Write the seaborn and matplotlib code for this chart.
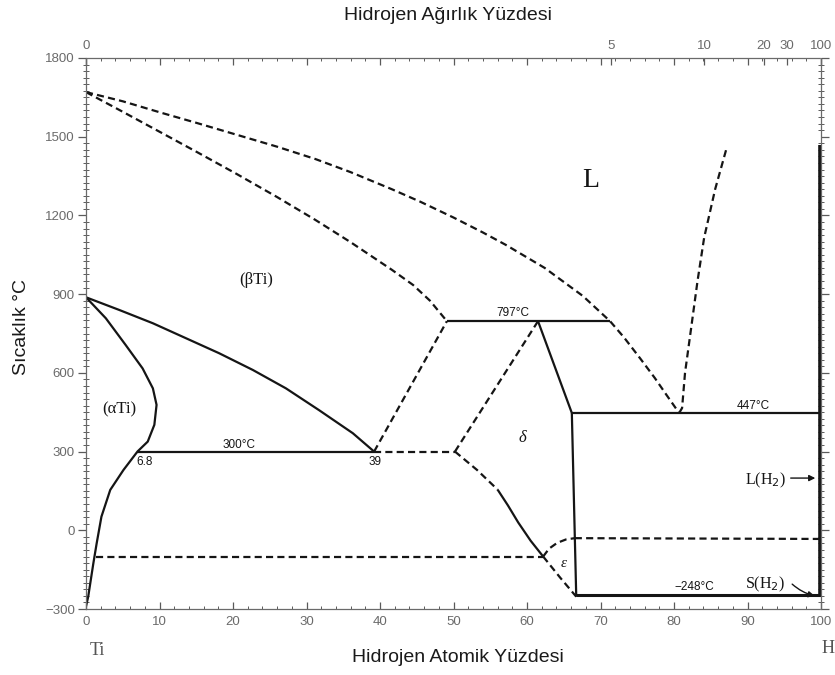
import numpy as np
import pandas as pd
import matplotlib
matplotlib.use("Agg")
import matplotlib.pyplot as plt
from matplotlib.ticker import MultipleLocator, FixedLocator
import seaborn as sns

# ---- phase boundaries (atomic % H, temperature in °C) ----
liquidus_x = [0, 5, 10.4, 15, 20.8, 26, 31.2, 36, 41.6, 45.5, 50, 54, 57.1,
              62.4, 67.6, 71.3, 73.2, 75.4, 77.4, 79.0, 80.0, 80.7]
liquidus_t = [1670, 1635, 1590, 1553, 1505, 1462, 1415, 1365, 1300, 1252, 1192,
              1135, 1088, 1000, 893, 797, 735, 655, 580, 515, 475, 447]

beta_upper_x = [0, 5, 10.4, 15, 20.5, 26, 31.2, 36, 41.6, 44.5, 46.8, 49.1]
beta_upper_t = [1670, 1595, 1513, 1443, 1358, 1270, 1183, 1098, 993, 935, 875, 797]

beta_solvus_x = [0, 4.5, 9.1, 13.6, 18.1, 22.7, 27.2, 31.7, 36.3, 39.2]
beta_solvus_t = [888, 840, 789, 732, 675, 611, 541, 458, 370, 300]

alpha_solvus_x = [0, 2.7, 5.4, 7.7, 9.1, 9.6, 9.3, 8.4, 7.0, 5.1, 3.3, 2.1,
                  1.45, 1.0, 0.3, 0]
alpha_solvus_t = [888, 808, 706, 617, 541, 478, 402, 338, 300, 230, 154, 52,
                  -50, -126, -253, -290]

eutectoid_x = [7.0, 39.2]
eutectoid_t = [300, 300]

beta_delta_x = [39.2, 49.1]
beta_delta_t = [300, 797]

delta_left_300_x = [39.2, 50.2]
delta_left_300_t = [300, 300]

delta_upper_x = [50.2, 61.5]
delta_upper_t = [300, 797]

peritectic_x = [49.1, 71.3]
peritectic_t = [797, 797]

delta_right_x = [61.5, 66.1]
delta_right_t = [797, 447]

dihydride_x = [66.1, 66.7]
dihydride_t = [447, -253]

eutectic_x = [66.1, 100]
eutectic_t = [447, 447]

delta_low_dash_x = [50.2, 53.2, 56.0]
delta_low_dash_t = [300, 230, 155]
delta_low_solid_x = [56.0, 57.4, 58.8, 60.5, 62.2]
delta_low_solid_t = [155, 95, 30, -40, -100]
eps_left_x = [62.2, 64.5, 66.7]
eps_left_t = [-100, -180, -253]

eps_top_x = [62.2, 63.0, 64.1, 65.3, 66.5]
eps_top_t = [-100, -70, -48, -35, -30]

alpha_eps_x = [1.3, 62.2]
alpha_eps_t = [-100, -100]

h2_low_x = [66.5, 100]
h2_low_t = [-30, -33]

h2_solid_x = [66.7, 100]
h2_solid_t = [-248, -248]

gas_x = [80.7, 81.1, 81.5, 82.3, 83.2, 84.1, 85.6, 87.2]
gas_t = [447, 466, 600, 764, 950, 1115, 1300, 1461]

h2_edge_x = [99.8, 99.8]
h2_edge_t = [1470, -253]

# ---- axis ticks ----
at_ticks = [0, 10, 20, 30, 40, 50, 60, 70, 80, 90, 100]
temp_ticks = [-300, 0, 300, 600, 900, 1200, 1500, 1800]
wt_ticks = [0, 5, 10, 20, 30, 100]
wt_labels = ["0", "5", "10", "20", "30", "100"]

M_H, M_TI = 1.008, 47.87


def at_to_wt(a):
    a = np.asarray(a, dtype=float)
    with np.errstate(divide="ignore", invalid="ignore"):
        return 100 * a * M_H / (a * M_H + (100 - a) * M_TI)


def wt_to_at(w):
    w = np.asarray(w, dtype=float)
    with np.errstate(divide="ignore", invalid="ignore"):
        return 100 * (w / M_H) / (w / M_H + (100 - w) / M_TI)


sns.set_theme(style="white")
plt.rcParams["font.family"] = ["Liberation Sans", "DejaVu Sans"]

fig = plt.figure(figsize=(8.35, 6.75), dpi=100)
ax = fig.add_axes([86 / 835, 1 - 609 / 675, 735 / 835, 551 / 675])

INK = "#151515"
LW = 1.6
DASH = (3.2, 1.9)


def draw(x, t, dashed=False, lw=LW):
    df = pd.DataFrame({"x": x, "t": t})
    line_ax = sns.lineplot(data=df, x="x", y="t", sort=False, estimator=None,
                           ax=ax, color=INK, linewidth=lw, legend=False)
    ln = line_ax.lines[-1]
    if dashed:
        ln.set_linestyle((0, DASH))
    ln.set_solid_capstyle("butt")
    ln.set_dash_capstyle("butt")
    ln.set_solid_joinstyle("round")


# dashed boundaries
for x, t in [(liquidus_x, liquidus_t), (beta_upper_x, beta_upper_t),
             (beta_delta_x, beta_delta_t), (delta_left_300_x, delta_left_300_t),
             (delta_upper_x, delta_upper_t), (delta_low_dash_x, delta_low_dash_t),
             (eps_left_x, eps_left_t), (eps_top_x, eps_top_t),
             (alpha_eps_x, alpha_eps_t), (h2_low_x, h2_low_t), (gas_x, gas_t)]:
    draw(x, t, dashed=True)

# solid boundaries
for x, t in [(beta_solvus_x, beta_solvus_t), (alpha_solvus_x, alpha_solvus_t),
             (eutectoid_x, eutectoid_t), (peritectic_x, peritectic_t),
             (delta_right_x, delta_right_t), (dihydride_x, dihydride_t),
             (eutectic_x, eutectic_t), (delta_low_solid_x, delta_low_solid_t)]:
    draw(x, t)
draw(h2_solid_x, h2_solid_t, lw=2.2)
draw(h2_edge_x, h2_edge_t, lw=2.6)

ax.set_xlim(0, 100)
ax.set_ylim(-300, 1800)

# frame and ticks
for s in ax.spines.values():
    s.set_visible(True)
    s.set_color("#6a6a6a")
    s.set_linewidth(0.9)
    s.set_linestyle((0, (2, 1)))

TICK_C = "#5a5a5a"
ax.xaxis.set_major_locator(FixedLocator(at_ticks))
ax.xaxis.set_minor_locator(MultipleLocator(2))
ax.yaxis.set_major_locator(FixedLocator(temp_ticks))
ax.yaxis.set_minor_locator(MultipleLocator(25))
ax.tick_params(axis="x", which="major", direction="in", length=5, width=0.9,
               color=TICK_C, labelcolor="#6a6a6a", labelsize=9.5, top=True,
               bottom=True, pad=5)
ax.tick_params(axis="x", which="minor", direction="in", length=2, width=0.7,
               color=TICK_C, top=True, bottom=True)
ax.tick_params(axis="y", which="major", direction="out", length=6, width=0.9,
               color=TICK_C, labelcolor="#6a6a6a", labelsize=9.5, left=True,
               right=True, pad=2)
ax.tick_params(axis="y", which="minor", direction="inout", length=4, width=0.7,
               color=TICK_C, left=True, right=True)
ax.set_xlabel("")
ax.set_ylabel("")

sec = ax.secondary_xaxis("top", functions=(at_to_wt, wt_to_at))
sec.xaxis.set_major_locator(FixedLocator(wt_ticks))
sec.set_xticklabels(wt_labels)
sec.xaxis.set_minor_locator(FixedLocator([]))
sec.tick_params(axis="x", direction="in", length=5, width=0.9, color=TICK_C,
                labelcolor="#6a6a6a", labelsize=9.5, pad=4)
sec.spines["top"].set_visible(False)

# axis titles
fig.text(448 / 835, 1 - 16 / 675, "Hidrojen Ağırlık Yüzdesi", ha="center",
         va="center", fontsize=14, color="#1a1a1a")
fig.text(458 / 835, 1 - 657 / 675, "Hidrojen Atomik Yüzdesi", ha="center",
         va="center", fontsize=14, color="#1a1a1a")
fig.text(22 / 835, 1 - 327 / 675, "Sıcaklık °C", ha="center", va="center",
         rotation=90, fontsize=14, color="#1a1a1a")

# phase field labels
serif = ["Liberation Serif", "DejaVu Serif"]
ax.text(68.6, 1335, "L", fontsize=20, family=serif, color=INK, ha="center", va="center")
ax.text(23.2, 954, "(βTi)", fontsize=12, family=serif, color=INK, ha="center", va="center")
ax.text(4.6, 459, "(αTi)", fontsize=12, family=serif, color=INK, ha="center", va="center")
ax.text(59.4, 350, "δ", fontsize=12, family=serif, style="italic", color=INK,
        ha="center", va="center")
ax.text(65.0, -128, "ε", fontsize=11, family=serif, style="italic", color=INK,
        ha="center", va="center")
ax.text(1.5, -458, "Ti", fontsize=13, family=serif, color="#555555", ha="center",
        va="center", clip_on=False)
ax.text(100.9, -452, "H", fontsize=13, family=serif, color="#555555", ha="center",
        va="center", clip_on=False)

# invariant temperatures and compositions
small = dict(fontsize=8.5, color=INK, ha="center", va="center")
ax.text(58.1, 830, "797°C", **small)
ax.text(20.8, 326, "300°C", **small)
ax.text(90.8, 472, "447°C", **small)
ax.text(82.7, -216, "−248°C", **small)
ax.text(8.0, 262, "6.8", **small)
ax.text(39.3, 260, "39", **small)

# hydrogen phase callouts
ax.text(92.4, 192, "L(H$_2$)", fontsize=11.5, family=serif, color=INK,
        ha="center", va="center")
ax.annotate("", xy=(99.6, 199), xytext=(95.5, 199),
            arrowprops=dict(arrowstyle="-|>", color=INK, lw=1.0,
                            mutation_scale=9))
ax.text(92.4, -206, "S(H$_2$)", fontsize=11.5, family=serif, color=INK,
        ha="center", va="center")
ax.annotate("", xy=(99.5, -252), xytext=(95.8, -198),
            arrowprops=dict(arrowstyle="-|>", color=INK, lw=1.0,
                            mutation_scale=9,
                            connectionstyle="arc3,rad=0.15"))

fig.savefig("out.png", dpi=100, facecolor="white")
